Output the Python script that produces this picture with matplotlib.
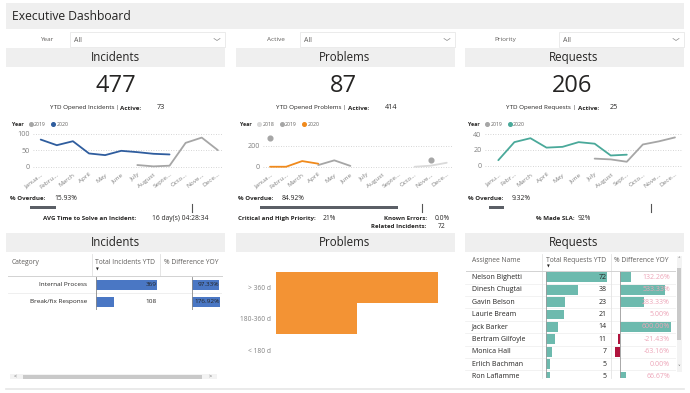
import numpy as np
import matplotlib.pyplot as plt
from matplotlib.patches import Rectangle
from matplotlib.lines import Line2D
from matplotlib.transforms import blended_transform_factory as blend

plt.rcParams['font.family'] = ['Open Sans', 'DejaVu Sans']

nan = np.nan

# ---- data ----
months_a = ["Janua...", "Febru...", "March", "April", "May", "June",
            "July", "August", "Septe...", "Octo...", "Nove...", "Dece..."]
months_b = ["Janu...", "Febr...", "March", "April", "May", "June",
            "July", "August", "Sept...", "Octo...", "Nove...", "Dece..."]

inc_2019 = [nan, nan, nan, nan, nan, nan, 5, 1, 3, 72, 88, 50]
inc_2020 = [82, 65, 77, 40, 35, 48, 44, 39, 37, nan, nan, nan]
prb_2018 = [nan, nan, nan, nan, nan, nan, nan, nan, nan, 0, 10, 38]
prb_2019 = [270, nan, nan, 16, 61, 8, nan, nan, nan, nan, 67, nan]
prb_2020 = [0, 0, 54, 29, nan, nan, nan, nan, nan, nan, nan, nan]
req_2019 = [nan, nan, nan, nan, nan, nan, 9, 8, 5, 27, 31, 36]
req_2020 = [7, 30, 35, 23, 24, 30, 28, 13, 14, nan, nan, nan]

slicers = ["Year", "Active", "Priority"]
sections = ["Incidents", "Problems", "Requests"]
ytd_total = [477, 87, 206]
active = [73, 414, 25]
overdue = [15.93, 84.92, 9.32]
overdue_target = 100

inc_cat = ["Internal Process", "Break/fix Response"]
inc_ytd = [369, 108]
inc_yoy = [97.33, 176.92]

age_bins = ["> 360 d", "180-360 d", "< 180 d"]
age_cnt = [58, 29, 0]

assignees = ["Nelson Bighetti", "Dinesh Chugtai", "Gavin Belson", "Laurie Bream",
             "Jack Barker", "Bertram Gilfoyle", "Monica Hall", "Erlich Bachman",
             "Ron Laflamme"]
req_ytd = [72, 38, 23, 21, 14, 11, 7, 5, 5]
req_yoy = [132.26, 533.33, 283.33, 5.00, 600.00, -21.43, -63.16, 0.00, 66.67]

# ---- style ----
dark = '#252423'
grey = '#605e5c'
panel = '#efefef'
blue = '#2f5d9e'
blue_bar = '#4a77c4'
teal = '#4aa99a'
teal_bar = '#6dbaae'
orange = '#f08a1c'
orange_bar = '#f39334'
c2019 = '#a6a6a6'
c2018 = '#dadada'
bullet_c = '#5b5f66'
neg_c = '#b0133d'
pink = '#eda5b8'

W, H = 690, 393
fig = plt.figure(figsize=(6.9, 3.93), dpi=100)
fig.patch.set_facecolor('white')


def pax(x, y, w, h):
    ax = fig.add_axes([x / W, 1 - (y + h) / H, w / W, h / H])
    ax.set_facecolor('none')
    for s in ax.spines.values():
        s.set_visible(False)
    return ax


def box(x, y, w, h, fc, ec='none', lw=0):
    fig.add_artist(Rectangle((x / W, 1 - (y + h) / H), w / W, h / H,
                             transform=fig.transFigure, facecolor=fc,
                             edgecolor=ec, linewidth=lw))


def ft(x, y, s, **kw):
    kw.setdefault('va', 'center')
    kw.setdefault('color', dark)
    return fig.text(x / W, 1 - y / H, s, **kw)


def fline(xs, ys, **kw):
    fig.add_artist(Line2D([x / W for x in xs], [1 - y / H for y in ys],
                          transform=fig.transFigure, **kw))


# title + slicers
box(6, 3, 678, 26, panel)
ft(12, 16, "Executive Dashboard", size=8.7)
for name, lx, bx0, bx1 in zip(slicers, [46.7, 275.8, 505], [70, 300, 559.3], [225, 455, 684]):
    ft(lx, 39.5, name, size=4.6, ha='center', color=grey)
    box(bx0, 32, bx1 - bx0, 15, 'white', '#e3e3e3', 0.5)
    ft(bx0 + 4, 40, "All", size=5, color=grey)
    cx = bx1 - 8
    fline([cx - 3, cx, cx + 3], [38.5, 40.5, 38.5], color='#8a8a8a', lw=0.5)

# section headers
for x0 in [6, 236, 465]:
    box(x0, 48, 219, 19, panel)
    box(x0, 233, 219, 19, panel)
for sec, cx in zip(sections, [115.8, 345, 574]):
    ft(cx, 57.5, sec, size=8.3, ha='center')
    ft(cx, 242.5, sec, size=8.3, ha='center')

# KPI numbers
for v, cx in zip(ytd_total, [116, 343, 572]):
    ft(cx, 86, str(v), size=17, ha='center')
for sec, a, anchor, vx in zip(sections, active, [119, 346, 576], [157, 385, 610]):
    ft(anchor, 108, f"YTD Opened {sec} |", size=4.5, ha='right')
    ft(anchor + 1.5, 108, "Active:", size=4.5, weight='bold')
    ft(vx, 107.5, str(a), size=5.2)


def legend(x0, years, colors):
    ft(x0, 124, "Year", size=3.8, weight='bold')
    for i, (yr, c) in enumerate(zip(years, colors)):
        dx = x0 + 19 + 22.5 * i
        fline([dx], [124], marker='o', ms=2.6, color=c, lw=0, zorder=1)
        ft(dx + 3.2, 124, yr, size=3.7, color=grey, zorder=3)


legend(11.7, ["2019", "2020"], [c2019, blue])
legend(240, ["2018", "2019", "2020"], [c2018, c2019, orange])
legend(468, ["2019", "2020"], [c2019, teal])


def line_chart(x0, x1, xlim, ylim, yticks, labels, series):
    ax = pax(x0, 128, x1 - x0, 42)
    xs = np.arange(len(labels))
    for vals, col in series:
        v = np.array(vals, float)
        ax.plot(xs, v, color=col, lw=1.3, solid_capstyle='round', clip_on=False)
        ok = ~np.isnan(v)
        iso = ok & ~np.r_[False, ok[:-1]] & ~np.r_[ok[1:], False]
        ax.plot(xs[iso], v[iso], 'o', ms=3.4, color=col, clip_on=False)
    for t in yticks:
        ax.axhline(t, color='#c8c8c8', lw=0.6, ls=(0, (1, 2)), zorder=0)
    ax.set_xlim(xlim)
    ax.set_ylim(ylim)
    ax.set_yticks(yticks)
    ax.set_xticks(xs)
    ax.set_xticklabels(labels, rotation=38, ha='right', va='top',
                       rotation_mode='anchor', fontsize=4.6, color='#808080')
    ax.tick_params(axis='y', labelsize=5.2, labelcolor='#808080', length=0, pad=2.5)
    ax.tick_params(axis='x', length=0, pad=1.5)
    return ax


line_chart(33.3, 221.7, (-0.46, 11.24), (-10, 117), [0, 50, 100], months_a,
           [(inc_2019, c2019), (inc_2020, blue)])
line_chart(263.3, 451.7, (-0.42, 11.31), (-31, 369), [0, 200], months_a,
           [(prb_2018, c2018), (prb_2019, c2019), (prb_2020, orange)])
line_chart(485, 681.7, (-0.83, 11.42), (-5.5, 48), [0, 20, 40], months_b,
           [(req_2019, c2019), (req_2020, teal)])

# overdue bullets
for od, lx, bx in zip(overdue, [10, 238, 468], [30, 260, 489.3]):
    ft(lx, 198.5, "% Overdue:", size=4.4, weight='bold')
    ft(lx + 44, 198.5, f"{od:.2f}%", size=4.9)
    ax = pax(bx, 203.5, 162, 8.5)
    ax.barh(0, od, height=0.4, color=bullet_c)
    ax.plot([overdue_target, overdue_target], [-0.5, 0.5], color='#555555', lw=0.8, clip_on=False)
    ax.set_xlim(0, overdue_target)
    ax.set_ylim(-0.5, 0.5)
    ax.axis('off')

ft(136.7, 218.3, "AVG Time to Solve an Incident:", size=4.4, weight='bold', ha='right')
ft(151.7, 218.3, "16 day(s) 04:28:34", size=4.9)
ft(238, 218.3, "Critical and High Priority:", size=4.4, weight='bold')
ft(323, 218.3, "21%", size=4.9)
ft(426.7, 218.3, "Known Errors:", size=4.4, weight='bold', ha='right')
ft(435, 218.3, "0.0%", size=4.9)
ft(426.7, 226.7, "Related Incidents:", size=4.4, weight='bold', ha='right')
ft(438, 226.7, "72", size=4.9)
ft(575, 218.3, "% Made SLA:", size=4.4, weight='bold', ha='right')
ft(578, 218.3, "92%", size=4.9)

# ---- incidents table ----
ft(12, 263, "Category", size=4.9, color=grey)
ft(95, 263, "Total Incidents YTD", size=4.9, color=grey)
ft(163.5, 263, "% Difference YOY", size=4.9, color=grey)
ft(97.5, 269.5, "\u25bc", size=2.6, ha='center', family='DejaVu Sans')
fline([92, 92], [254, 276], color='#e0e0e0', lw=0.6)
fline([160, 160], [254, 276], color='#e0e0e0', lw=0.6)
fline([8, 222], [276.3, 276.3], color='#d2d2d2', lw=0.7)

row_h = 16.7
tab = pax(8, 276.6, 214, 2 * row_h)
tab.set_ylim(1.5, -0.5)
tab.set_xlim(0, 1)
tab.axis('off')
for i, c in enumerate(inc_cat):
    tab.text(79 / 214, i, c, ha='right', va='center', size=4.6, color=dark)
tab.axhline(0.5, color='#ececec', lw=0.6)

axt = pax(95.7, 276.6, 61.6, 2 * row_h)
axt.barh(range(len(inc_ytd)), inc_ytd, height=0.6, color=blue_bar)
axt.set_xlim(0, 372.5)
axt.set_ylim(1.5, -0.5)
axt.axvline(0, color='#8a8a8a', lw=0.6)
tr = blend(axt.transAxes, axt.transData)
for i, v in enumerate(inc_ytd):
    axt.text(0.985, i, str(v), transform=tr, ha='right', va='center', size=4.6, color=dark)
axt.set_xticks([])
axt.set_yticks([])

axp = pax(192, 276.6, 27.7, 2 * row_h)
axp.barh(range(len(inc_yoy)), inc_yoy, height=0.6, color=blue_bar)
axp.set_xlim(0, 100)
axp.set_ylim(1.5, -0.5)
axp.axvline(0, color='#8a8a8a', lw=0.6)
tr = blend(axp.transAxes, axp.transData)
for i, v in enumerate(inc_yoy):
    axp.text(0.99, i, f"{v:.2f}%", transform=tr, ha='right', va='center', size=4.6, color=dark)
axp.set_xticks([])
axp.set_yticks([])

# horizontal scrollbar
box(10, 374, 207, 5, '#f3f3f3')
box(23, 374.5, 179, 4, '#c9c9c9')
ft(15.7, 376.5, "<", size=4, color='#666666', ha='center')
ft(210, 376.5, ">", size=4, color='#666666', ha='center')

# ---- problems age chart ----
axa = pax(275.7, 271.7, 167.9, 94.2)
axa.barh(range(len(age_bins)), age_cnt, height=1.0, color=orange_bar,
         edgecolor='none')
axa.set_xlim(0, 60)
axa.set_ylim(2.5, -0.5)
axa.set_yticks(range(len(age_bins)))
axa.set_yticklabels(age_bins, fontsize=4.8, color='#808080')
axa.set_xticks([])
axa.tick_params(length=0, pad=3.5)

# ---- requests table ----
ft(471.7, 261, "Assignee Name", size=4.9, color=grey)
ft(546, 261, "Total Requests YTD", size=4.9, color=grey)
ft(614, 261, "% Difference YOY", size=4.9, color=grey)
ft(548, 267, "\u25bc", size=2.6, ha='center', family='DejaVu Sans')
fline([541.7, 541.7], [254, 378], color='#e3e3e3', lw=0.6)
fline([610.7, 610.7], [254, 378], color='#e3e3e3', lw=0.6)
fline([466, 675], [271, 271], color='#d2d2d2', lw=0.7)

rh = 12.4
top = 271.1
vis = (378 - top) / rh
rows = np.arange(len(assignees))

tab2 = pax(465, top, 211, 378 - top)
tab2.set_ylim(vis - 0.5, -0.5)
tab2.set_xlim(0, 1)
tab2.axis('off')
for i, n in enumerate(assignees):
    tab2.text(0.032, i, n, ha='left', va='center', size=5, color=dark, clip_on=True)
    tab2.axhline(i + 0.5, color='#ededed', lw=0.5)

axr = pax(546, top, 62, 378 - top)
axr.barh(rows, req_ytd, height=0.8, color=teal_bar)
axr.set_xlim(0, 73.5)
axr.set_ylim(vis - 0.5, -0.5)
axr.axvline(0, color='#9a9a9a', lw=0.6)
tr = blend(axr.transAxes, axr.transData)
for i, v in enumerate(req_ytd):
    axr.text(0.979, i, str(v), transform=tr, ha='right', va='center', size=5, color=dark, clip_on=True)
axr.set_xticks([])
axr.set_yticks([])

axq = pax(610.7, top, 64.3, 378 - top)
yoy = np.array(req_yoy)
axq.barh(rows, yoy, height=0.8, color=np.where(yoy < 0, neg_c, teal_bar))
axq.set_xlim(-110, 651)
axq.set_ylim(vis - 0.5, -0.5)
axq.axvline(0, color='#9a9a9a', lw=0.6)
tr = blend(axq.transAxes, axq.transData)
for i, v in enumerate(req_yoy):
    axq.text(0.922, i, f"{v:.2f}%", transform=tr, ha='right', va='center', size=5, color=pink, clip_on=True)
axq.set_xticks([])
axq.set_yticks([])

# vertical scrollbar
box(676.5, 256, 5, 116, '#f3f3f3')
box(677, 268, 4, 72, '#c9c9c9')
ft(679, 259.5, "\u02c4", size=4, color='#666666', ha='center', family='DejaVu Sans')
ft(679, 367, "\u02c5", size=4, color='#666666', ha='center', family='DejaVu Sans')

# bottom edge
fline([6, 684], [388.5, 388.5], color='#e6e6e6', lw=1.2)

fig.savefig('out.png', dpi=100)
